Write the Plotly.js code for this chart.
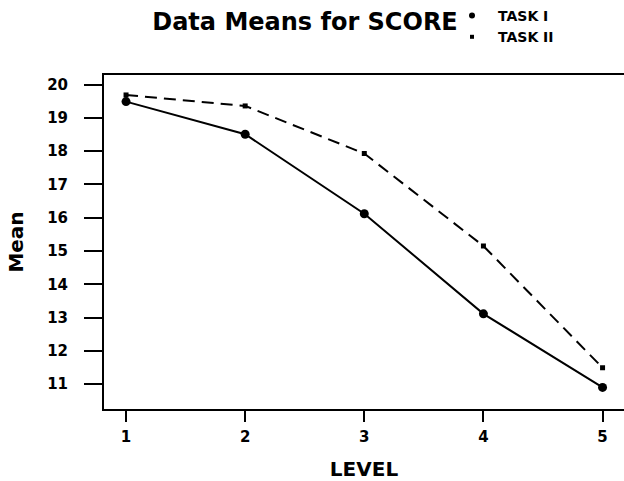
<!DOCTYPE html>
<html>
<head>
<meta charset="utf-8">
<script src="https://cdn.plot.ly/plotly-3.0.1.min.js"></script>
<style>
html,body{margin:0;padding:0;background:#fff;}
#chart{width:624px;height:481px;}
</style>
</head>
<body>
<div id="chart"></div>
<script>
const levels = [1, 2, 3, 4, 5];
const taskI = [19.49, 18.51, 16.12, 13.11, 10.90];
const taskII = [19.69, 19.36, 17.93, 15.15, 11.49];
const seriesNames = ['TASK I', 'TASK II'];
const xTicks = [1, 2, 3, 4, 5];
const yTicks = [11, 12, 13, 14, 15, 16, 17, 18, 19, 20];

const FONT = 'DejaVu Sans, Liberation Sans, Arial, sans-serif';

const traces = [
  {x: levels, y: taskI, mode: 'lines+markers', showlegend: false, name: seriesNames[0],
   line: {color: '#000', width: 2}, marker: {color: '#000', size: 9, symbol: 'circle'}},
  {x: levels, y: taskII, mode: 'lines+markers', showlegend: false, name: seriesNames[1],
   line: {color: '#000', width: 2, dash: '12px,7px'}, marker: {color: '#000', size: 5, symbol: 'square'}},
  {x: [null], y: [null], mode: 'markers', name: seriesNames[0], showlegend: true,
   marker: {color: '#000', size: 6, symbol: 'circle'}},
  {x: [null], y: [null], mode: 'markers', name: seriesNames[1], showlegend: true,
   marker: {color: '#000', size: 4, symbol: 'square'}}
];

const layout = {
  width: 624, height: 481,
  margin: {l: 104, r: 0, t: 75, b: 72, autoexpand: false},
  paper_bgcolor: '#fff', plot_bgcolor: '#fff',
  font: {family: FONT, color: '#000'},
  title: {
    text: 'Data Means for SCORE',
    font: {family: FONT, size: 24, weight: 'bold', color: '#000'},
    xref: 'container', x: 305/624, xanchor: 'center',
    yref: 'container', y: 1 - 22/481, yanchor: 'middle'
  },
  showlegend: true,
  legend: {
    xref: 'container', yref: 'container',
    x: 446/624, y: 1, xanchor: 'left', yanchor: 'top',
    font: {family: FONT, size: 14, weight: 'bold', color: '#000'},
    bgcolor: 'rgba(0,0,0,0)', tracegroupgap: 0, itemwidth: 42
  },
  xaxis: {
    range: [0.815, 5.18],
    tickvals: xTicks, ticktext: xTicks.map(String),
    ticks: 'outside', ticklen: 11, tickwidth: 2, tickcolor: '#000',
    showline: true, linewidth: 2, linecolor: '#000', mirror: true,
    showgrid: false, zeroline: false,
    tickfont: {family: FONT, size: 15, weight: 'bold', color: '#000'},
    ticklabelstandoff: 2,
    title: {text: 'LEVEL', font: {family: FONT, size: 20, weight: 'bold', color: '#000'}, standoff: 17}
  },
  yaxis: {
    range: [10.25, 20.29],
    tickvals: yTicks, ticktext: yTicks.map(String),
    ticks: 'outside', ticklen: 18, tickwidth: 2, tickcolor: '#000',
    showline: true, linewidth: 2, linecolor: '#000', mirror: false,
    showgrid: false, zeroline: false,
    tickfont: {family: FONT, size: 15, weight: 'bold', color: '#000'},
    ticklabelstandoff: 13,
    title: {text: 'Mean', font: {family: FONT, size: 20, weight: 'bold', color: '#000'}, standoff: 18}
  }
};

Plotly.newPlot('chart', traces, layout, {displayModeBar: false, staticPlot: true});
</script>
</body>
</html>
